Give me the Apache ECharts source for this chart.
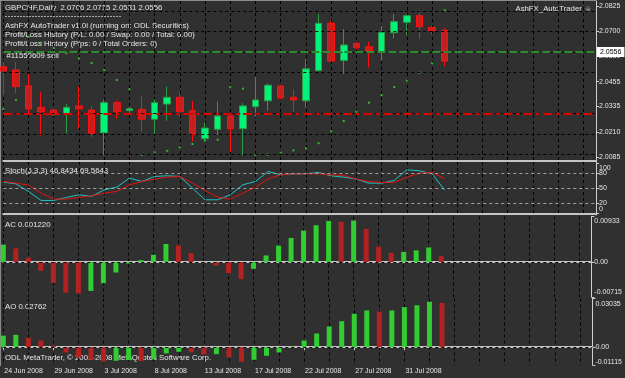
<!DOCTYPE html>
<html lang="en">
<head>
  <meta charset="UTF-8">
  <title>GBPCHF Daily - AshFX AutoTrader</title>
  <script src="https://cdn.jsdelivr.net/npm/echarts@6/dist/echarts.min.js"></script>
  <style>
    html, body { margin: 0; padding: 0; background: #303030; }
    #chart { width: 625px; height: 378px; }
  </style>
</head>
<body>
  <div id="chart"></div>
  <script>
    // bars (daily, Sunday sessions included)
    const dates = ['24 Jun 2008', '25 Jun 2008', '26 Jun 2008', '27 Jun 2008', '29 Jun 2008', '30 Jun 2008',
      '1 Jul 2008', '2 Jul 2008', '3 Jul 2008', '4 Jul 2008', '6 Jul 2008', '7 Jul 2008',
      '8 Jul 2008', '9 Jul 2008', '10 Jul 2008', '11 Jul 2008', '13 Jul 2008', '14 Jul 2008',
      '15 Jul 2008', '16 Jul 2008', '17 Jul 2008', '18 Jul 2008', '20 Jul 2008', '21 Jul 2008',
      '22 Jul 2008', '23 Jul 2008', '24 Jul 2008', '25 Jul 2008', '27 Jul 2008', '28 Jul 2008',
      '29 Jul 2008', '30 Jul 2008', '31 Jul 2008', '1 Aug 2008', '3 Aug 2008', '4 Aug 2008'];

    // [open, close, low, high]
    const ohlc = [
      [2.0528, 2.0507, 2.0390, 2.0551], [2.0512, 2.0431, 2.0398, 2.0551], [2.0434, 2.0322, 2.0301, 2.0493],
      [2.0330, 2.0309, 2.0190, 2.0406], [2.0317, 2.0296, 2.0288, 2.0322], [2.0298, 2.0330, 2.0203, 2.0346],
      [2.0337, 2.0323, 2.0226, 2.0431], [2.0317, 2.0203, 2.0184, 2.0337], [2.0206, 2.0353, 2.0096, 2.0369],
      [2.0353, 2.0309, 2.0275, 2.0362], [2.0314, 2.0323, 2.0304, 2.0333], [2.0320, 2.0272, 2.0211, 2.0385],
      [2.0272, 2.0353, 2.0195, 2.0369], [2.0346, 2.0379, 2.0265, 2.0431], [2.0379, 2.0309, 2.0284, 2.0406],
      [2.0314, 2.0197, 2.0164, 2.0362], [2.0177, 2.0229, 2.0162, 2.0258], [2.0223, 2.0288, 2.0195, 2.0358],
      [2.0288, 2.0226, 2.0112, 2.0301], [2.0226, 2.0337, 2.0096, 2.0350], [2.0333, 2.0366, 2.0284, 2.0477],
      [2.0362, 2.0438, 2.0314, 2.0447], [2.0434, 2.0376, 2.0369, 2.0438], [2.0379, 2.0366, 2.0307, 2.0418],
      [2.0362, 2.0518, 2.0330, 2.0564], [2.0509, 2.0740, 2.0504, 2.0785], [2.0740, 2.0556, 2.0553, 2.0753],
      [2.0558, 2.0634, 2.0493, 2.0711], [2.0642, 2.0621, 2.0613, 2.0645], [2.0626, 2.0605, 2.0525, 2.0650],
      [2.0601, 2.0696, 2.0558, 2.0727], [2.0694, 2.0748, 2.0667, 2.0785], [2.0745, 2.0777, 2.0683, 2.0785],
      [2.0777, 2.0723, 2.0663, 2.0805], [2.0720, 2.0704, 2.0683, 2.0727], [2.0706, 2.0556, 2.0531, 2.0715]
    ];

    // parabolic SAR dots
    const sar = [2.0322, 2.0366, 2.0673, 2.0645, 2.0619, 2.0594, 2.0569, 2.0546, 2.0512, 2.0463, 2.0418, 2.0098,
      2.0111, 2.0118, 2.0135, 2.0151, 2.0169, 2.0172, 2.0429, 2.0421, 2.0098, 2.0099, 2.0109, 2.0120,
      2.0130, 2.0155, 2.0213, 2.0263, 2.0309, 2.0353, 2.0390, 2.0429, 2.0460, 2.0499, 2.0545, 2.0803];

    const stochMain = [62.7, 59.4, 44.1, 26.1, 26.1, 32.1, 37.4, 34.1, 47.4, 52.7, 70.7, 64.1,
      74.1, 75.4, 74.1, 50.7, 27.4, 27.4, 37.4, 57.4, 64.1, 84.1, 77.4, 79.4,
      79.4, 82.1, 75.4, 72.7, 68.7, 60.7, 60.7, 66.1, 87.4, 85.4, 79.4, 46.84];
    const stochSignal = [64.1, 60.7, 56.7, 40.7, 28.7, 28.7, 32.1, 35.4, 40.7, 44.1, 57.4, 64.1,
      68.7, 72.7, 74.1, 60.7, 46.1, 32.7, 28.7, 40.7, 52.7, 69.4, 77.4, 79.4,
      79.4, 79.4, 77.4, 76.1, 68.7, 64.1, 62.1, 62.1, 72.7, 80.7, 82.1, 69.56];

    const acValues = [0.00356, 0.0028, 0.00089, -0.00179, -0.00426, -0.00626, -0.0064, -0.0059, -0.00433, -0.00213, -0.0003, 0.0004,
      0.0015, 0.0037, 0.0034, 0.00185, -0.0001, -0.0007, -0.00227, -0.0035, -0.00138, 0.00136, 0.00336, 0.00494,
      0.00645, 0.00754, 0.0084, 0.00824, 0.0085, 0.0068, 0.00315, 0.0019, 0.00206, 0.0024, 0.003, 0.00122];
    const aoValues = [0.0072, 0.0077, 0.0058, 0.0041, 0.0009, -0.0033, -0.0064, -0.0079, -0.0089, -0.0085, -0.0081, -0.0087,
      -0.0075, -0.0039, -0.0029, -0.0033, -0.0047, -0.0044, -0.0064, -0.0091, -0.0079, -0.0054, -0.0033, 0.0003,
      0.0041, 0.0085, 0.0129, 0.0162, 0.0208, 0.0229, 0.0222, 0.0229, 0.0250, 0.0261, 0.0283, 0.02762];

    const priceTicks = [2.0085, 2.0210, 2.0335, 2.0455, 2.0580, 2.0700, 2.0825];
    const bidPrice = 2.0556;
    const redLevel = 2.0345;
    const stochLevels = [20, 50, 80];
    const stochEnds = [0, 100];
    const acTicks = [-0.00715, 0, 0.00933];
    const aoTicks = [-0.01115, 0, 0.03035];

    const SLOTS = 48; // bar slots across the window, the rest stays empty
    const cats = dates.concat(Array.from({ length: SLOTS - dates.length }, (_, i) => 'pad' + i));

    const FONT = 'Liberation Sans, Arial, sans-serif';
    const TXT = '#e6e6e6';
    const GREEN = '#32cd32', RED = '#b22222';
    const GRIDLINE = { color: '#000', type: [3, 3], width: 1 };

    // MT4 colouring: bar is green when above the previous one
    function osciData(vals) {
      return vals.map((v, i) => ({
        value: v,
        itemStyle: { color: (i === 0 || v > vals[i - 1]) ? GREEN : RED }
      }));
    }

    const showDate = (idx) => idx % 4 === 0 && idx < dates.length;

    function makeX(i) {
      const last = i === 3;
      return {
        type: 'category', gridIndex: i, data: cats, boundaryGap: false,
        axisLine: { show: true, lineStyle: { color: '#c4c4c4', width: 2 } },
        axisTick: { show: last, interval: showDate, length: 3, lineStyle: { color: '#d0d0d0' } },
        axisLabel: { show: last, interval: showDate, align: 'left', margin: 3, fontSize: 7,
          color: TXT, fontFamily: FONT, padding: [0, 0, 0, 1] },
        splitLine: { show: true, interval: 1, lineStyle: GRIDLINE }
      };
    }

    // padTop / padBot push the top label down and the bottom label up, like MT4 keeps them inside the pane
    function makeY(i, min, max, ticks, fmt, padTop, padBot, withLine) {
      const tok = { fontSize: 7, color: TXT, fontFamily: FONT };
      return {
        type: 'value', gridIndex: i, position: 'right', min: min, max: max,
        axisLine: { show: withLine !== false, lineStyle: { color: '#cfcfcf', width: 1 } },
        axisTick: { show: true, customValues: ticks, length: 3, lineStyle: { color: '#cfcfcf' } },
        axisLabel: { customValues: ticks, formatter: fmt, margin: 3, fontSize: 7, color: TXT, fontFamily: FONT,
          hideOverlap: false,
          rich: {
            t: Object.assign({ padding: [padTop, 0, 0, 0] }, tok),
            b: Object.assign({ padding: [0, 0, padBot, 0] }, tok)
          } },
        splitLine: { show: false }
      };
    }

    const edgeFmt = (digits) => (v) => {
      if (v === 0) return '0.00';
      return (v > 0 ? '{t|' : '{b|') + v.toFixed(digits) + '}';
    };

    const chart = echarts.init(document.getElementById('chart'), null, { renderer: 'canvas' });

    const textStyle = (t, x, y, align) => ({
      type: 'text', x: x, y: y, silent: true,
      style: { text: t, fill: TXT, font: '7.8px ' + FONT, verticalAlign: 'middle', align: align || 'left' }
    });

    const option = {
      backgroundColor: '#303030',
      animation: false,
      grid: [
        { left: 3.3, right: 29, top: 1, height: 160 },
        { left: 3.3, right: 29, top: 162, height: 53 },
        { left: 3.3, right: 29, top: 216.5, height: 80.5 },
        { left: 3.3, right: 29, top: 298.5, height: 66.5 }
      ],
      xAxis: [makeX(0), makeX(1), makeX(2), makeX(3)],
      yAxis: [
        makeY(0, 2.00682, 2.08487, priceTicks, (v) => v.toFixed(4), 0, 0),
        makeY(1, -3, 103, stochLevels, (v) => String(v), 0, 0),
        makeY(2, -0.00715, 0.00933, acTicks, edgeFmt(5), 9, 10),
        makeY(3, -0.01115, 0.03035, aoTicks, edgeFmt(5), 11, 6),
        // second scale on the stochastic pane only for the 0 / 100 labels
        makeY(1, -3, 103, stochEnds, (v) => v > 50 ? '{t|' + v + '}' : '{b|' + v + '}', 9, 8, false)
      ],
      series: [
        {
          // price grid lines, kept behind the candles
          type: 'line', xAxisIndex: 0, yAxisIndex: 0, data: [], z: 1, silent: true,
          markLine: {
            symbol: 'none', silent: true, label: { show: false },
            lineStyle: GRIDLINE,
            data: priceTicks.map((p) => ({ yAxis: p }))
          }
        },
        {
          type: 'candlestick', xAxisIndex: 0, yAxisIndex: 0, data: ohlc, barWidth: 7,
          itemStyle: { color: '#00f27a', color0: '#c81e1e', borderColor: '#2e9a46', borderColor0: '#ff1010', borderWidth: 1 },
          markLine: {
            symbol: 'none', silent: true,
            data: [
              { yAxis: bidPrice, lineStyle: { color: '#2d8a2d', type: [8, 3], width: 2 },
                label: { show: true, position: 'end', distance: 1, formatter: bidPrice.toFixed(4),
                  backgroundColor: '#ffffff', color: '#000', fontSize: 7, fontFamily: FONT, padding: [2, 3, 1, 3] } },
              { yAxis: redLevel, lineStyle: { color: '#e00000', type: [9, 4, 3, 4], width: 2 },
                label: { show: false } }
            ]
          }
        },
        {
          type: 'scatter', xAxisIndex: 0, yAxisIndex: 0, data: sar, symbol: 'rect', symbolSize: 2,
          itemStyle: { color: '#3ad43a' }, z: 3
        },
        {
          type: 'line', xAxisIndex: 1, yAxisIndex: 1, data: stochMain, showSymbol: false,
          lineStyle: { color: '#1fc3c3', width: 1 }, z: 3
        },
        {
          type: 'line', xAxisIndex: 1, yAxisIndex: 1, data: stochSignal, showSymbol: false,
          lineStyle: { color: '#e01414', width: 1 },
          markLine: {
            symbol: 'none', silent: true, label: { show: false },
            lineStyle: { color: '#a0a0a0', type: [3, 3], width: 1 },
            data: stochLevels.map((v) => ({ yAxis: v }))
          }
        },
        {
          type: 'bar', xAxisIndex: 2, yAxisIndex: 2, data: osciData(acValues), barWidth: 5,
          markLine: {
            symbol: 'none', silent: true, label: { show: false },
            lineStyle: GRIDLINE, data: [{ yAxis: 0 }]
          }
        },
        {
          type: 'bar', xAxisIndex: 3, yAxisIndex: 3, data: osciData(aoValues), barWidth: 5,
          markLine: {
            symbol: 'none', silent: true, label: { show: false },
            lineStyle: GRIDLINE, data: [{ yAxis: 0 }]
          }
        }
      ],
      graphic: [
        { type: 'line', silent: true, shape: { x1: 0.5, y1: 0, x2: 0.5, y2: 366 }, style: { stroke: '#8a8a8a', lineWidth: 1 } },
        { type: 'line', silent: true, shape: { x1: 0, y1: 0.5, x2: 596, y2: 0.5 }, style: { stroke: '#8a8a8a', lineWidth: 1 } },
        textStyle('GBPCHF,Daily  2.0706 2.0715 2.0531 2.0556', 5, 7.5),
        { type: 'line', silent: true, shape: { x1: 5, y1: 16.5, x2: 122, y2: 16.5 },
          style: { stroke: '#a8a8a8', lineWidth: 1, lineDash: [2, 1] } },
        textStyle('AshFX AutoTrader v1.0i (running on: ODL Securities)', 5, 26),
        textStyle('Profit/Loss History (P/L: 0.00 / Swap: 0.00 / Total: 0.00)', 5, 34.5),
        textStyle('Profit/Loss History (Pips: 0 / Total Orders: 0)', 5, 43.5),
        textStyle('#11550609 sell', 6.5, 55.5),
        textStyle('AshFX_AutoTrader \u263A', 592, 9, 'right'),
        textStyle('Stoch(5,3,3) 46.8434 69.5643', 5, 170.5),
        textStyle('AC 0.001220', 5, 225),
        textStyle('AO 0.02762', 5, 306.5),
        textStyle('ODL MetaTrader, \u00A9 2001-2008 MetaQuotes Software Corp.', 5, 358)
      ]
    };

    chart.setOption(option);
  </script>
</body>
</html>
